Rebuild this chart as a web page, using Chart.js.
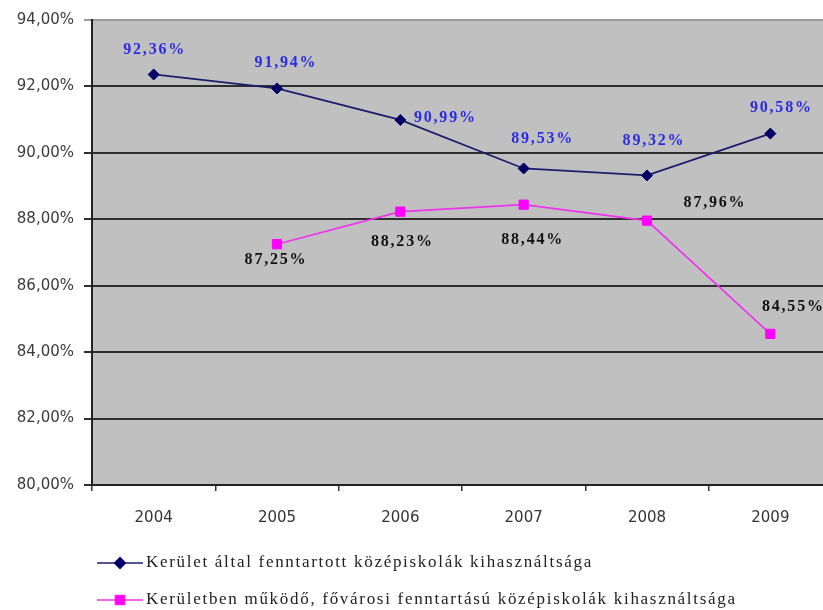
<!DOCTYPE html>
<html>
<head>
<meta charset="utf-8">
<script src="https://cdn.jsdelivr.net/npm/chart.js@4"></script>
<style>
  html, body { margin:0; padding:0; background:#fff; overflow:hidden; }
  #wrap { position:absolute; left:0; top:0; width:840px; height:610px; }
</style>
</head>
<body>
<div id="wrap"><canvas id="grafico" width="840" height="610"></canvas></div>
<script>
// adatok
const evek = ['2004', '2005', '2006', '2007', '2008', '2009'];
const keruletiErtekek = [92.36, 91.94, 90.99, 89.53, 89.32, 90.58];
const fovarosiErtekek = [null, 87.25, 88.23, 88.44, 87.96, 84.55];
const sorozatNevek = [
  'Kerület által fenntartott középiskolák kihasználtsága',
  'Kerületben működő, fővárosi fenntartású középiskolák kihasználtsága'
];

// címkék eltolása a pontokhoz képest (px)
const cimkeEltolas = [
  [[1,-25],[9,-26],[45,-2],[19,-30],[7,-35],[11,-26]],
  [[0,0],[-1,16],[2,30],[9,35],[68,-18],[23,-27]]
];
const cimkeSzin = ['#2b2be6', '#111111'];

const fmt = v => v.toFixed(2).replace('.', ',') + '%';

// szürke háttér a rajzterületnek
const hatter = {
  id: 'hatter',
  beforeDraw(chart) {
    const {ctx, chartArea: a} = chart;
    ctx.save();
    ctx.fillStyle = '#c0c0c0';
    ctx.fillRect(a.left, a.top, a.right - a.left, a.bottom - a.top);
    ctx.restore();
  }
};

// értékcímkék
const cimkek = {
  id: 'cimkek',
  afterDatasetsDraw(chart) {
    const ctx = chart.ctx;
    ctx.save();
    ctx.font = 'bold 16px "Liberation Serif", serif';
    ctx.letterSpacing = '1.8px';
    ctx.textAlign = 'center';
    ctx.textBaseline = 'middle';
    chart.data.datasets.forEach((ds, i) => {
      const meta = chart.getDatasetMeta(i);
      meta.data.forEach((pt, j) => {
        const v = ds.data[j];
        if (v == null) return;
        const [dx, dy] = cimkeEltolas[i][j];
        ctx.fillStyle = cimkeSzin[i];
        ctx.fillText(fmt(v), pt.x + dx, pt.y + dy);
      });
    });
    ctx.restore();
  }
};

// saját jelmagyarázat balra igazítva
const jelmagyarazat = {
  id: 'jelmagyarazat',
  afterDraw(chart) {
    const ctx = chart.ctx;
    ctx.save();
    ctx.font = '17px "Liberation Serif", serif';
    ctx.letterSpacing = '1.7px';
    ctx.textBaseline = 'middle';
    const sorY = [563, 600];
    chart.data.datasets.forEach((ds, i) => {
      const y = sorY[i];
      ctx.strokeStyle = ds.borderColor;
      ctx.lineWidth = 1.5;
      ctx.beginPath();
      ctx.moveTo(97, y);
      ctx.lineTo(143, y);
      ctx.stroke();
      Chart.helpers.drawPoint(ctx, {
        pointStyle: ds.pointStyle, radius: ds.pointRadius,
        borderWidth: 1, rotation: 0
      }, 120, y);
      ctx.fillStyle = ds.pointBackgroundColor;
      ctx.strokeStyle = ds.pointBorderColor;
      ctx.fill();
      ctx.fillStyle = '#222';
      ctx.fillText(ds.label, 146, y);
    });
    ctx.restore();
  }
};

new Chart(document.getElementById('grafico').getContext('2d'), {
  type: 'line',
  data: {
    labels: evek,
    datasets: [
      {
        label: sorozatNevek[0],
        data: keruletiErtekek,
        borderColor: '#1c1c6e',
        borderWidth: 1.8,
        pointStyle: 'rectRot',
        pointRadius: 5.5,
        pointBackgroundColor: '#000066',
        pointBorderColor: '#000066',
        pointBorderWidth: 1,
        tension: 0
      },
      {
        label: sorozatNevek[1],
        data: fovarosiErtekek,
        borderColor: '#ee33ee',
        borderWidth: 1.6,
        pointStyle: 'rect',
        pointRadius: 6.5,
        pointBackgroundColor: '#ff00ff',
        pointBorderColor: '#ff00ff',
        pointBorderWidth: 1,
        tension: 0
      }
    ]
  },
  options: {
    responsive: false,
    animation: false,
    layout: { padding: { top: 20, right: 8, left: 0, bottom: 0 } },
    plugins: {
      legend: { display: false },
      tooltip: { enabled: false }
    },
    scales: {
      x: {
        offset: true,
        grid: {
          display: true, offset: true, drawOnChartArea: false,
          drawTicks: true, tickLength: 6, color: '#333', lineWidth: 1.5
        },
        border: { display: true, color: '#222', width: 2 },
        ticks: {
          color: '#333', padding: 18,
          font: { family: '"DejaVu Sans", sans-serif', size: 15 }
        },
        afterFit: s => { s.height = 125; }
      },
      y: {
        min: 80, max: 94,
        ticks: {
          stepSize: 2, color: '#3a3a3a', padding: 10,
          font: { family: '"DejaVu Sans", sans-serif', size: 15 },
          callback: v => fmt(v)
        },
        grid: {
          color: c => c.tick && c.tick.value === 94 ? '#9a9a9a' : '#2e2e2e',
          lineWidth: 2,
          drawTicks: true, tickLength: 8
        },
        border: { display: true, color: '#222', width: 2 },
        afterFit: s => { s.width = 92; }
      }
    }
  },
  plugins: [hatter, cimkek, jelmagyarazat]
});
</script>
</body>
</html>
